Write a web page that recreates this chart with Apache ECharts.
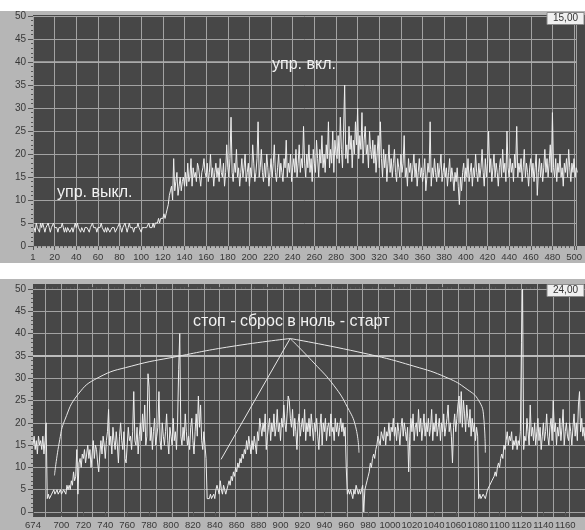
<!DOCTYPE html>
<html><head><meta charset="utf-8">
<script src="https://cdn.jsdelivr.net/npm/echarts@6/dist/echarts.min.js"></script>
<style>html,body{margin:0;padding:0;background:#fff}#c{width:585px;height:530px}</style>
</head><body><div id="c"></div><script>
// ---------- data ----------
const topStartX = 1;
const topValues = [
4,3,5,4,4,3,5,4,5,4,
3,4,4,5,4,3,4,4,5,4,
4,4,3,4,4,4,5,4,3,4,
3,4,4,3,3,4,3,4,5,4,
5,4,4,3,4,4,3,4,4,4,
4,3,4,4,5,4,4,4,3,4,
4,4,5,4,4,3,4,3,4,4,
3,3,4,4,4,3,3,4,4,5,
4,3,4,4,5,4,3,4,5,4,
4,4,3,4,4,4,5,4,4,3,
4,4,4,4,4,4,5,4,4,4,
5,4,5,5,5,6,5,6,6,6,
7,6,7,8,9,11,12,13,10,19,
12,14,16,11,13,15,12,14,15,13,
16,13,18,14,15,19,13,17,15,16,
14,18,17,15,13,16,17,19,16,15,
18,14,16,20,15,17,13,16,18,15,
17,14,19,16,15,18,13,16,22,17,
15,19,28,16,14,18,16,21,15,17,
13,16,19,15,17,20,14,16,18,13,
17,15,22,18,14,16,19,27,15,17,
21,16,14,18,15,20,17,13,16,19,
15,18,22,16,14,17,20,15,18,16,
14,19,17,23,15,18,16,20,14,17,
19,16,21,15,18,22,16,19,17,26,
18,15,20,17,22,16,19,14,21,18,
16,23,19,15,21,18,24,17,20,16,
22,19,27,17,21,18,25,16,23,20,
19,24,18,28,21,17,25,35,19,22,
18,26,21,24,17,23,20,27,22,30,
19,24,21,29,18,23,26,20,22,17,
25,21,19,23,18,22,16,20,24,17,
27,19,15,21,17,20,14,18,22,16,
19,15,18,21,16,14,19,17,15,20,
16,18,24,15,17,13,19,16,18,14,
17,20,15,18,13,16,19,15,17,14,
16,19,12,15,18,16,27,13,17,15,
19,16,14,18,15,17,20,14,16,18,
15,17,13,16,19,14,17,15,12,16,
14,17,13,9,15,12,16,18,14,17,
15,19,14,16,18,13,17,15,20,16,
14,18,15,17,21,16,13,19,15,18,
25,16,19,14,17,20,15,18,16,13,
17,19,15,21,16,18,14,25,17,15,
19,16,18,14,20,17,26,15,18,16,
19,14,17,21,15,18,16,13,17,19,
15,18,14,17,20,11,16,19,15,18,
14,17,21,16,19,15,18,22,16,29,
17,15,19,14,18,16,20,15,17,13,
18,16,19,15,21,17,14,18,16,19,
15,17,16
];
const bottomStartX = 674;
const bottomValues = [
15,17,14,16,13,17,15,16,14,17,
13,16,20,3,4,3,3,4,4,5,
4,4,5,4,4,5,4,4,5,5,
4,6,5,6,5,7,6,9,7,8,
14,4,11,12,10,13,12,14,11,13,
15,12,14,10,13,16,12,15,14,11,
9,13,16,13,17,15,12,16,18,23,
15,17,13,19,16,14,18,15,11,17,
20,16,14,18,12,11,15,19,16,17,
14,18,27,16,15,19,13,17,20,16,
22,18,24,15,17,31,28,16,19,14,
18,21,15,17,19,27,16,14,20,17,
15,18,22,16,13,19,17,15,21,16,
18,14,20,32,40,17,15,19,16,22,
18,15,17,14,19,21,16,13,18,22,
17,26,19,24,16,14,18,15,12,3,
3,3,4,3,3,4,3,5,6,5,
4,7,5,4,6,5,4,5,6,7,
6,8,7,9,8,10,9,11,10,12,
11,13,12,14,13,16,14,17,15,13,
16,14,17,15,13,18,16,21,19,17,
20,18,22,14,17,19,21,16,20,18,
22,17,19,23,18,20,16,21,19,24,
20,18,22,26,25,21,19,23,17,21,
18,14,20,22,17,19,21,18,23,16,
20,18,21,17,22,19,16,20,18,21,
17,14,19,22,15,20,18,21,16,19,
20,17,22,18,19,16,21,18,20,17,
19,21,18,20,17,19,10,4,5,4,
5,4,3,5,4,6,5,4,5,4,
5,6,0,5,6,7,8,9,11,10,
12,13,12,14,15,17,16,15,18,17,
16,19,15,18,17,20,16,19,18,21,
17,19,16,20,18,15,19,21,17,20,
18,16,19,9,17,21,18,22,16,19,
20,17,23,18,21,16,19,22,17,20,
18,21,17,19,23,16,20,18,22,17,
19,21,16,20,18,22,17,19,21,24,
18,20,17,11,19,22,18,21,24,26,
20,27,19,25,22,18,24,21,19,23,
17,21,18,20,16,19,17,3,4,3,
3,4,4,3,4,5,5,6,6,7,
7,8,9,8,10,11,10,12,13,12,
15,14,16,18,15,17,16,18,14,16,
15,17,14,16,15,18,38,50,14,17,
16,21,18,15,24,17,19,16,20,15,
18,21,16,19,14,17,20,16,18,22,
17,15,19,21,16,25,18,20,15,19,
17,21,16,19,23,15,18,20,17,16,
20,18,15,19,22,17,20,16,24,27,
18,21,17,19,16
];
const topXLabelInterval = 20;
const bottomTickLabels = [674,700,720,740,760,780,800,820,840,860,880,900,920,940,960,980,1000,1020,1040,1060,1080,1100,1120,1140,1160];
// annotation lines (bottom panel, data coordinates)
const curveLeft = [[908.8,38.9],[854.8,37.1],[806.2,34.9],[763.7,32.7],[733.4,30.1],[715.2,26.4],[703,20.6],[698.4,16.2],[693.6,8.2]];
const lineMid = [[908.8,38.9],[845.7,11.8]];
const curveInnerRight = [[908.8,38.9],[930.6,33.4],[948.9,28.3],[961.1,23.5],[968.6,19.1],[971.6,13.3]];
const curveOuterRight = [[908.8,38.9],[976.2,35.6],[1021.7,32.7],[1052.1,30.1],[1070.4,27.5],[1080.9,25.0],[1085.5,21.3],[1087,13.3]];
const textOff = 'упр. выкл.';
const textOn = 'упр. вкл.';
const textReset = 'стоп - сброс в ноль - старт';
const readoutTop = '15,00';
const readoutBottom = '24,00';

// ---------- styles ----------
const PANEL = '#b6b6b6', PLOT = '#474747', GRIDC = '#a3a3a3', LINE = '#eeeeee', TXT = '#383838';
const FONT = 'Liberation Sans, Arial, sans-serif';
const bottomMinorTicks = [];
for (let v = 676; v <= 1176; v += 4) if ((v - 680) % 20 !== 0) bottomMinorTicks.push(v);

const chart = echarts.init(document.getElementById('c'), null, {renderer: 'canvas'});

function yAx(gi){
  return {gridIndex: gi, type: 'value', min: 0, max: 50, interval: 5,
    axisLine: {show: false},
    axisTick: {show: true, length: 5, lineStyle: {color: '#555'}},
    minorTick: {show: true, splitNumber: 5, length: 2, lineStyle: {color: '#555'}},
    axisLabel: {color: TXT, fontSize: 10, fontFamily: FONT, margin: 7},
    splitLine: {show: true, lineStyle: {color: GRIDC, width: 1}}};
}
const line = (c) => ({color: c, width: 1});

chart.setOption({
  animation: false,
  graphic: [
    {type: 'rect', z: -10, shape: {x: 0, y: 11, width: 585, height: 252}, style: {fill: PANEL}},
    {type: 'rect', z: -9, shape: {x: 33, y: 15, width: 552, height: 231}, style: {fill: PLOT}},
    {type: 'rect', z: -10, shape: {x: 0, y: 279, width: 585, height: 251}, style: {fill: PANEL}},
    {type: 'rect', z: -9, shape: {x: 33, y: 284, width: 552, height: 233}, style: {fill: PLOT}},
    {type: 'text', z: 100, style: {x: 57, y: 193, text: textOff, fill: '#f2f2f2', font: '16px ' + FONT, textVerticalAlign: 'middle'}},
    {type: 'text', z: 100, style: {x: 272, y: 65, text: textOn, fill: '#f2f2f2', font: '16px ' + FONT, textVerticalAlign: 'middle'}},
    {type: 'text', z: 100, style: {x: 193, y: 322, text: textReset, fill: '#f2f2f2', font: '16px ' + FONT, textVerticalAlign: 'middle'}},
    {type: 'rect', z: 100, shape: {x: 547, y: 12.5, width: 37, height: 12}, style: {fill: '#f0f0f0', stroke: '#8a8a8a', lineWidth: 1}},
    {type: 'text', z: 101, style: {x: 565.5, y: 18.5, text: readoutTop, fill: '#333', font: '10px ' + FONT, textAlign: 'center', textVerticalAlign: 'middle'}},
    {type: 'rect', z: 100, shape: {x: 547, y: 284.5, width: 37, height: 12}, style: {fill: '#f0f0f0', stroke: '#8a8a8a', lineWidth: 1}},
    {type: 'text', z: 101, style: {x: 565.5, y: 290.5, text: readoutBottom, fill: '#333', font: '10px ' + FONT, textAlign: 'center', textVerticalAlign: 'middle'}}
  ],
  grid: [
    {left: 33, top: 16, width: 554, height: 230},
    {left: 33, top: 289, width: 553, height: 228},
    {left: 45, top: 284, width: 545, height: 233}
  ],
  xAxis: [
    {gridIndex: 0, type: 'value', min: 0, max: 502, interval: topXLabelInterval,
      axisLine: {show: false},
      axisTick: {show: true, length: 4, lineStyle: {color: '#555'}},
      minorTick: {show: true, splitNumber: 5, length: 2, lineStyle: {color: '#555'}},
      axisLabel: {color: TXT, fontSize: 9.5, fontFamily: FONT, margin: 6,
        formatter: v => v === 0 ? '1' : (v % 20 === 0 ? String(v) : '')},
      splitLine: {show: true, lineStyle: {color: GRIDC, width: 1}}},
    {gridIndex: 1, type: 'value', min: 674, max: 1178,
      axisLine: {show: false},
      axisTick: {show: true, length: 4, customValues: bottomTickLabels, lineStyle: {color: '#555'}},
      axisLabel: {color: TXT, fontSize: 9.5, fontFamily: FONT, margin: 8, customValues: bottomTickLabels,
        formatter: v => String(v)},
      splitLine: {show: false}},
    {gridIndex: 1, type: 'value', min: 674, max: 1178,
      axisLine: {show: false},
      axisTick: {show: true, length: 2, customValues: bottomMinorTicks, lineStyle: {color: '#555'}},
      axisLabel: {show: false},
      splitLine: {show: false}},
    {gridIndex: 2, type: 'value', min: 0, max: 545, interval: 16.03,
      axisLine: {show: false}, axisTick: {show: false}, axisLabel: {show: false},
      splitLine: {show: true, lineStyle: {color: GRIDC, width: 1}}}
  ],
  yAxis: [
    yAx(0),
    yAx(1),
    {gridIndex: 2, type: 'value', min: 0, max: 1, show: false, splitLine: {show: false}}
  ],
  series: [
    {type: 'line', xAxisIndex: 0, yAxisIndex: 0, data: [], z: 1,
      markLine: {silent: true, symbol: 'none', label: {show: false},
        lineStyle: {color: '#acacac', width: 1.5, type: 'solid'}, data: [{yAxis: 40}]}},
    {type: 'line', xAxisIndex: 1, yAxisIndex: 1, data: [], z: 1,
      markLine: {silent: true, symbol: 'none', label: {show: false},
        lineStyle: {color: '#bdbdbd', width: 2, type: 'solid'}, data: [{yAxis: 35}]}},
    {type: 'line', xAxisIndex: 0, yAxisIndex: 0, z: 5,
      data: topValues.map((v, i) => [topStartX + i, v]),
      showSymbol: false, lineStyle: line(LINE)},
    {type: 'line', xAxisIndex: 1, yAxisIndex: 1, z: 5,
      data: bottomValues.map((v, i) => [bottomStartX + i, v]),
      showSymbol: false, lineStyle: line(LINE)},
    {type: 'line', xAxisIndex: 1, yAxisIndex: 1, z: 6, data: curveLeft, smooth: 0.5, showSymbol: false, lineStyle: line('#e8e8e8')},
    {type: 'line', xAxisIndex: 1, yAxisIndex: 1, z: 6, data: lineMid, showSymbol: false, lineStyle: line('#e8e8e8')},
    {type: 'line', xAxisIndex: 1, yAxisIndex: 1, z: 6, data: curveInnerRight, smooth: 0.5, showSymbol: false, lineStyle: line('#e8e8e8')},
    {type: 'line', xAxisIndex: 1, yAxisIndex: 1, z: 6, data: curveOuterRight, smooth: 0.5, showSymbol: false, lineStyle: line('#e8e8e8')}
  ]
});
</script></body></html>
